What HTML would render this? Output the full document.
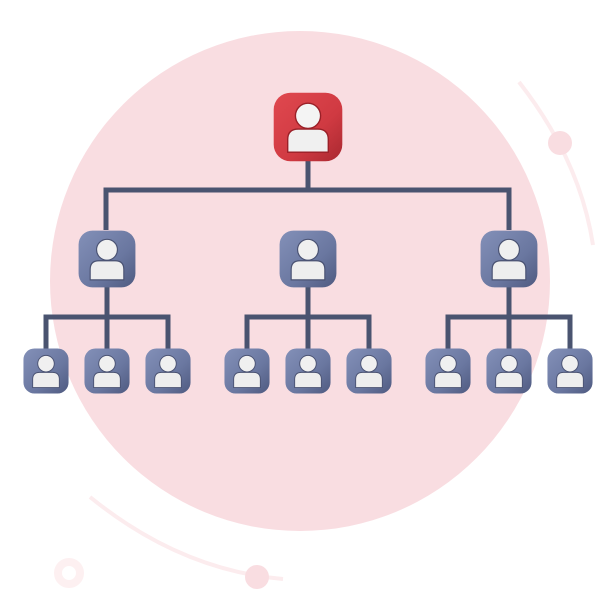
<!DOCTYPE html>
<html><head><meta charset="utf-8"><style>html,body{margin:0;padding:0;background:#fff}svg{display:block}</style></head><body>
<svg width="615" height="603" viewBox="0 0 615 603" xmlns="http://www.w3.org/2000/svg">
<defs>
<linearGradient id="gb" x1="0" y1="0" x2="1" y2="1"><stop offset="0" stop-color="#8390b8"/><stop offset="0.6" stop-color="#6a77a0"/><stop offset="1" stop-color="#4f5a80"/></linearGradient>
<linearGradient id="gr" x1="0" y1="0" x2="1" y2="1"><stop offset="0" stop-color="#e0484f"/><stop offset="0.6" stop-color="#d03a42"/><stop offset="1" stop-color="#a92830"/></linearGradient>
<symbol id="nb" viewBox="0 0 100 100"><rect x="1" y="1" width="98" height="98" rx="24" fill="url(#gb)"/><circle cx="50" cy="34" r="18" fill="#f0f0f0" stroke="#4a5272" stroke-width="2"/><path d="M21 86 V68 Q21 53 36 53 H64 Q79 53 79 68 V86 Z" fill="#eeeeee" stroke="#4a5272" stroke-width="2"/></symbol>
<symbol id="nr" viewBox="0 0 100 100"><rect x="1" y="1" width="98" height="98" rx="24" fill="url(#gr)"/><circle cx="50" cy="34" r="18" fill="#f4f4f4" stroke="#9a2028" stroke-width="2"/><path d="M21 86 V68 Q21 53 36 53 H64 Q79 53 79 68 V86 Z" fill="#f0f0f0" stroke="#9a2028" stroke-width="2"/></symbol>
</defs>
<circle cx="300" cy="281" r="250" fill="#f9dde1"/>
<path d="M519 82 Q580 160 593 245" fill="none" stroke="#fcecee" stroke-width="4"/>
<circle cx="560" cy="143" r="12" fill="#f9dde1"/>
<path d="M90 497 Q180 570 283 579" fill="none" stroke="#fcecee" stroke-width="4"/>
<circle cx="257" cy="577" r="12" fill="#f9dde1"/>
<circle cx="69" cy="573" r="11" fill="none" stroke="#fdf0f1" stroke-width="8"/>
<g fill="none" stroke="#4a5470" stroke-width="5">
<path d="M308 160 V190 M106 230 V190 H509 V230"/>
<path d="M107 285 V350 M308 285 V350 M509 285 V350"/>
<path d="M46 350 V317 H168 V350 M247 350 V317 H369 V350 M448 350 V317 H570 V350"/>
</g>
<use href="#nr" x="273" y="92" width="70" height="70"/>
<use href="#nb" x="78" y="230" width="58" height="58"/>
<use href="#nb" x="279" y="230" width="58" height="58"/>
<use href="#nb" x="480" y="230" width="58" height="58"/>
<use href="#nb" x="23" y="348" width="46" height="46"/>
<use href="#nb" x="84" y="348" width="46" height="46"/>
<use href="#nb" x="145" y="348" width="46" height="46"/>
<use href="#nb" x="224" y="348" width="46" height="46"/>
<use href="#nb" x="285" y="348" width="46" height="46"/>
<use href="#nb" x="346" y="348" width="46" height="46"/>
<use href="#nb" x="425" y="348" width="46" height="46"/>
<use href="#nb" x="486" y="348" width="46" height="46"/>
<use href="#nb" x="547" y="348" width="46" height="46"/>
</svg>
</body></html>
